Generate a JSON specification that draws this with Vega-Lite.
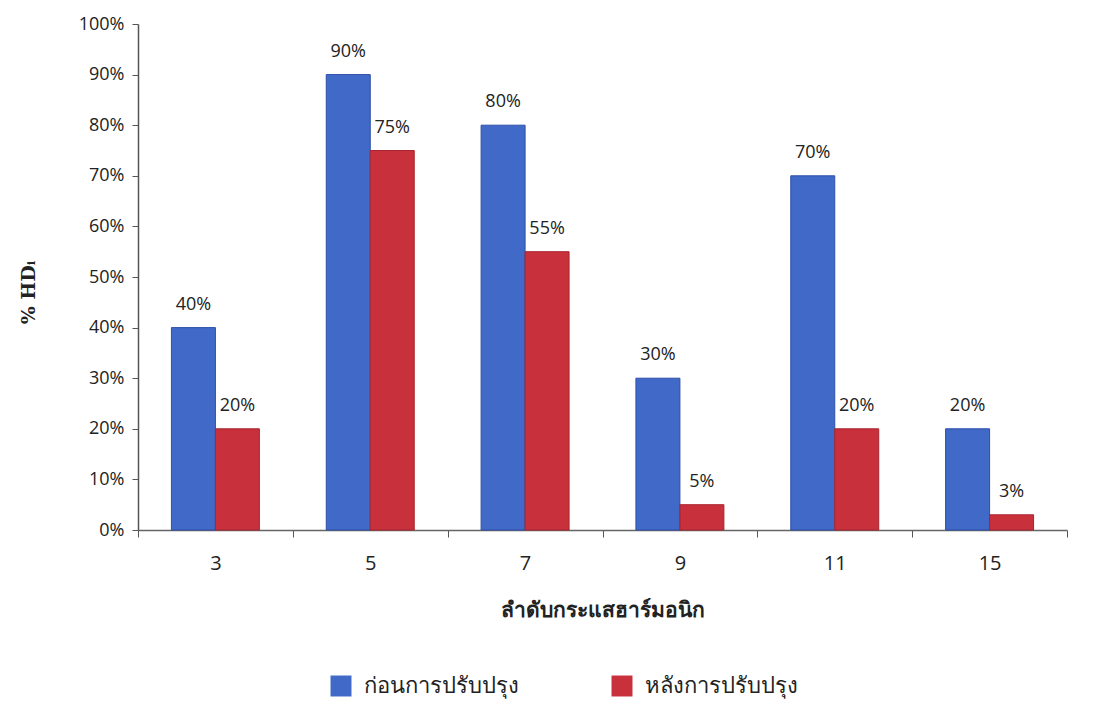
{
  "$schema": "https://vega.github.io/schema/vega-lite/v6.json",
  "width": 929,
  "height": 506,
  "autosize": "none",
  "padding": {"left": 138, "top": 24, "right": 35, "bottom": 172},
  "background": "white",
  "config": {"view": {"stroke": null}, "font": "Open Sans"},
  "data": {"values": [
    {"order": "3", "phase": "ก่อนการปรับปรุง", "value": 40, "label": "40%"},
    {"order": "3", "phase": "หลังการปรับปรุง", "value": 20, "label": "20%"},
    {"order": "5", "phase": "ก่อนการปรับปรุง", "value": 90, "label": "90%"},
    {"order": "5", "phase": "หลังการปรับปรุง", "value": 75, "label": "75%"},
    {"order": "7", "phase": "ก่อนการปรับปรุง", "value": 80, "label": "80%"},
    {"order": "7", "phase": "หลังการปรับปรุง", "value": 55, "label": "55%"},
    {"order": "9", "phase": "ก่อนการปรับปรุง", "value": 30, "label": "30%"},
    {"order": "9", "phase": "หลังการปรับปรุง", "value": 5, "label": "5%"},
    {"order": "11", "phase": "ก่อนการปรับปรุง", "value": 70, "label": "70%"},
    {"order": "11", "phase": "หลังการปรับปรุง", "value": 20, "label": "20%"},
    {"order": "15", "phase": "ก่อนการปรับปรุง", "value": 20, "label": "20%"},
    {"order": "15", "phase": "หลังการปรับปรุง", "value": 3, "label": "3%"}
  ]},
  "encoding": {
    "x": {
      "field": "order", "type": "nominal", "sort": null,
      "scale": {"paddingInner": 0, "paddingOuter": 0},
      "axis": {
        "title": "ลำดับกระแสฮาร์มอนิก",
        "titleFont": "Noto Sans", "titleFontSize": 21, "titleFontWeight": "bold", "titleColor": "#222",
        "titlePadding": 26,
        "labelAngle": 0, "labelFont": "Open Sans", "labelFontSize": 20, "labelColor": "#222", "labelPadding": 16,
        "tickBand": "extent", "ticks": true, "tickSize": 7, "tickColor": "#555",
        "domainColor": "#666", "domainWidth": 1.5, "grid": false
      }
    },
    "xOffset": {"field": "phase", "type": "nominal", "sort": null, "scale": {"paddingInner": 0, "paddingOuter": 0.76}},
    "y": {
      "field": "value", "type": "quantitative",
      "scale": {"domain": [0, 100]},
      "axis": {
        "title": "% HDᵢ",
        "titleFont": "DejaVu Serif", "titleFontSize": 19, "titleFontWeight": "bold", "titleColor": "#222",
        "titlePadding": 40, "titleY": 268,
        "values": [0, 10, 20, 30, 40, 50, 60, 70, 80, 90, 100],
        "labelExpr": "datum.value + '%'",
        "labelFont": "Open Sans", "labelFontSize": 18, "labelColor": "#222", "labelPadding": 8,
        "tickSize": 6, "tickColor": "#555", "domainColor": "#555", "domainWidth": 1.5, "grid": false
      }
    }
  },
  "layer": [
    {
      "mark": {"type": "bar", "strokeWidth": 1},
      "encoding": {
        "color": {
          "field": "phase", "type": "nominal", "sort": null,
          "scale": {"domain": ["ก่อนการปรับปรุง", "หลังการปรับปรุง"], "range": ["#4169C8", "#C8303C"]},
          "legend": {
            "title": null, "orient": "none", "direction": "horizontal",
            "legendX": 192, "legendY": 651,
            "symbolType": "square", "symbolSize": 440, "symbolStrokeWidth": 0,
            "labelFont": "Noto Sans", "labelFontSize": 22, "labelColor": "#222",
            "columnPadding": 92, "labelOffset": 12
          }
        },
        "stroke": {
          "field": "phase", "type": "nominal", "sort": null,
          "scale": {"domain": ["ก่อนการปรับปรุง", "หลังการปรับปรุง"], "range": ["#2d4fa8", "#a8242f"]},
          "legend": null
        }
      }
    },
    {
      "mark": {"type": "text", "baseline": "bottom", "dy": -14, "fontSize": 18, "font": "Open Sans", "color": "#222"},
      "encoding": {"text": {"field": "label"}}
    }
  ]
}
